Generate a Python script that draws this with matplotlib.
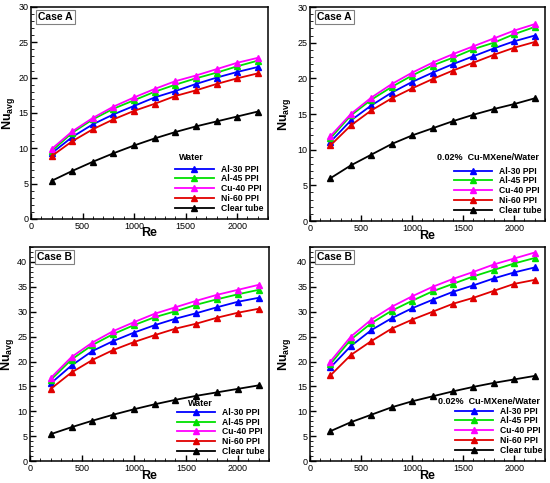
import matplotlib
matplotlib.use('Agg')
import matplotlib.pyplot as plt
from matplotlib.ticker import MultipleLocator

plt.rcParams['font.family'] = ['Liberation Sans', 'DejaVu Sans']
plt.rcParams['mathtext.fontset'] = 'custom'
plt.rcParams['mathtext.rm'] = 'Liberation Sans'

re_vals = [200, 400, 600, 800, 1000, 1200, 1400, 1600, 1800, 2000, 2200]
series_names = ['Al-30 PPI', 'Al-45 PPI', 'Cu-40 PPI', 'Ni-60 PPI', 'Clear tube']
series_colors = ['#0000ff', '#00e000', '#ff00ff', '#e00000', '#000000']

# Case A, water
a_water_al30 = [9.3, 11.6, 13.4, 14.8, 16.0, 17.2, 18.1, 19.1, 20.0, 20.8, 21.5]
a_water_al45 = [9.6, 12.2, 14.1, 15.6, 16.8, 18.0, 19.0, 19.9, 20.7, 21.6, 22.4]
a_water_cu40 = [9.9, 12.4, 14.3, 15.9, 17.2, 18.4, 19.5, 20.3, 21.2, 22.1, 22.8]
a_water_ni60 = [8.9, 11.0, 12.7, 14.1, 15.3, 16.3, 17.4, 18.2, 19.1, 19.9, 20.6]
a_water_clear = [5.4, 6.8, 8.1, 9.3, 10.4, 11.4, 12.3, 13.1, 13.8, 14.5, 15.2]

# Case A, nanofluid
a_nf_al30 = [11.1, 14.1, 16.2, 18.0, 19.5, 20.8, 22.0, 23.1, 24.2, 25.2, 26.0]
a_nf_al45 = [11.6, 14.8, 17.0, 18.8, 20.4, 21.8, 22.9, 24.1, 25.0, 26.2, 27.2]
a_nf_cu40 = [11.9, 15.0, 17.3, 19.2, 20.8, 22.2, 23.4, 24.5, 25.6, 26.7, 27.6]
a_nf_ni60 = [10.6, 13.4, 15.5, 17.2, 18.6, 19.9, 21.1, 22.2, 23.3, 24.3, 25.1]
a_nf_clear = [6.0, 7.8, 9.3, 10.8, 12.0, 13.0, 14.0, 14.9, 15.7, 16.4, 17.2]

# Case B, water
b_water_al30 = [15.6, 19.2, 22.1, 24.1, 25.8, 27.3, 28.6, 29.7, 30.9, 32.0, 32.8]
b_water_al45 = [16.3, 20.4, 23.3, 25.5, 27.3, 28.9, 30.1, 31.4, 32.5, 33.5, 34.4]
b_water_cu40 = [16.7, 20.9, 23.8, 26.1, 27.9, 29.6, 30.9, 32.2, 33.4, 34.4, 35.4]
b_water_ni60 = [14.5, 17.8, 20.3, 22.3, 23.9, 25.3, 26.6, 27.6, 28.8, 29.8, 30.6]
b_water_clear = [5.4, 6.8, 8.1, 9.3, 10.4, 11.4, 12.3, 13.1, 13.8, 14.5, 15.2]

# Case B, nanofluid
b_nf_al30 = [18.8, 23.1, 26.3, 28.7, 30.7, 32.4, 34.0, 35.3, 36.7, 37.9, 38.9]
b_nf_al45 = [19.5, 24.4, 27.7, 30.2, 32.2, 34.1, 35.6, 37.1, 38.4, 39.7, 40.8]
b_nf_cu40 = [20.0, 25.0, 28.4, 31.0, 33.1, 35.0, 36.6, 38.0, 39.5, 40.7, 41.9]
b_nf_ni60 = [17.2, 21.3, 24.1, 26.6, 28.4, 30.0, 31.6, 32.8, 34.2, 35.6, 36.4]
b_nf_clear = [6.0, 7.8, 9.3, 10.8, 12.0, 13.0, 14.0, 14.9, 15.7, 16.4, 17.1]


def draw_panel(ax, case_label, fluid_label, curves, ymax, title_xy, leg_xy, ylab_x):
    for vals, name, col in zip(curves, series_names, series_colors):
        ax.plot(re_vals, vals, color=col, lw=1.3, marker='^', ms=5,
                mec=col, mfc=col, label=name)
    ax.set_xlim(0, 2300)
    ax.set_ylim(0, ymax)
    ax.xaxis.set_major_locator(MultipleLocator(500))
    ax.xaxis.set_minor_locator(MultipleLocator(100))
    ax.yaxis.set_major_locator(MultipleLocator(5))
    ax.yaxis.set_minor_locator(MultipleLocator(1))
    ax.tick_params(which='both', direction='in', labelsize=6.5, pad=2)
    ax.tick_params(which='major', length=4, width=1)
    ax.tick_params(which='minor', length=2, width=0.6)
    for sp in ax.spines.values():
        sp.set_linewidth(1.1)
    ax.set_xlabel('Re', fontsize=9, fontweight='bold')
    ax.xaxis.set_label_coords(0.5, -0.04)
    ax.set_ylabel(r'Nu$_{\mathregular{avg}}$', fontsize=9, fontweight='bold')
    ax.yaxis.set_label_coords(ylab_x, 0.5)
    ax.text(0.03, 0.975, case_label, transform=ax.transAxes, fontsize=7.5,
            fontweight='bold', va='top', ha='left',
            bbox=dict(boxstyle='square,pad=0.2', fc='white', ec='#808080', lw=0.8))
    ax.text(title_xy[0], title_xy[1], fluid_label, transform=ax.transAxes,
            fontsize=6.5, fontweight='bold', ha='left', va='center')
    leg = ax.legend(loc='lower right', bbox_to_anchor=leg_xy, frameon=False,
                    fontsize=6.2, handlelength=4.5, handletextpad=0.8,
                    labelspacing=0.1, borderaxespad=0, borderpad=0,
                    markerscale=0.9)
    for t in leg.get_texts():
        t.set_fontweight('bold')


fig = plt.figure(figsize=(5.5, 4.83), dpi=100)
ax1 = fig.add_axes([0.0564, 0.5466, 0.431, 0.439])
ax2 = fig.add_axes([0.5636, 0.5424, 0.427, 0.443])
ax3 = fig.add_axes([0.0545, 0.0455, 0.4345, 0.443])
ax4 = fig.add_axes([0.5636, 0.0455, 0.427, 0.443])

draw_panel(ax1, 'Case A', 'Water',
           [a_water_al30, a_water_al45, a_water_cu40, a_water_ni60, a_water_clear], 30,
           (0.624, 0.292), (0.979, 0.028), -0.059)
draw_panel(ax2, 'Case A', '0.02%  Cu-MXene/Water',
           [a_nf_al30, a_nf_al45, a_nf_cu40, a_nf_ni60, a_nf_clear], 30,
           (0.540, 0.299), (0.987, 0.028), -0.072)
draw_panel(ax3, 'Case B', 'Water',
           [b_water_al30, b_water_al45, b_water_cu40, b_water_ni60, b_water_clear], 43,
           (0.661, 0.271), (0.983, 0.023), -0.059)
draw_panel(ax4, 'Case B', '0.02%  Cu-MXene/Water',
           [b_nf_al30, b_nf_al45, b_nf_cu40, b_nf_ni60, b_nf_clear], 43,
           (0.545, 0.280), (0.991, 0.028), -0.072)

fig.savefig('out.png', dpi=100)
